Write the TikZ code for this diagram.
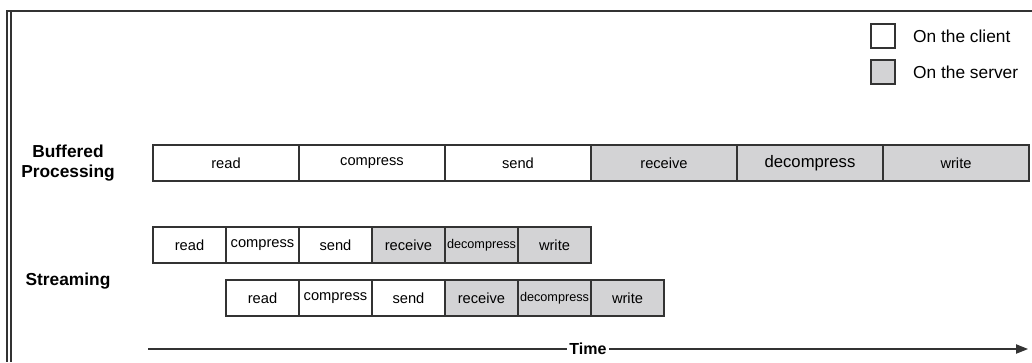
\documentclass[tikz,border=0pt]{standalone}
\usepackage{fontspec}
\setmainfont{Liberation Sans}
\usetikzlibrary{positioning,arrows.meta}
\definecolor{servergray}{HTML}{D3D3D5}
\definecolor{edgegray}{HTML}{333333}
\tikzset{
  task/.style={draw=edgegray, line width=0.8pt, inner sep=0pt, minimum height=27pt},
  client/.style={task, fill=white},
  server/.style={task, fill=servergray},
  longtask/.style={minimum width=109.5pt},
  shorttask/.style={minimum width=54.75pt},
  rowlabel/.style={font=\fontsize{13}{15}\selectfont\bfseries, align=center},
  legendtext/.style={inner sep=0pt, font=\fontsize{13}{15}\selectfont},
}
\begin{document}
\begin{tikzpicture}[x=0.75pt, y=-0.75pt]
\useasboundingbox (0,0) rectangle (1032,362);
% frame
\draw[line width=1pt, edgegray] (1032,11) -- (7,11) -- (7,362);
\draw[line width=1pt, edgegray] (11,11) -- (11,362);
% legend
\node[client, minimum size=18pt] (legclient) at (883,36) {};
\node[legendtext, right=13pt of legclient] (legclienttxt) {On the client};
\node[server, minimum size=18pt] (legserver) at (883,72) {};
\node[legendtext, right=13pt of legserver] (legservertxt) {On the server};
% row labels
\node[rowlabel] (buflabel) at (68,163) {Buffered\\Processing};
\node[rowlabel] (strlabel) at (68,281) {Streaming};
% buffered processing
\foreach \lbl/\kind/\fs [count=\i] in {read/client/11, compress/client/11, send/client/11,
    receive/server/11, decompress/server/12.5, write/server/11}
  \node[\kind, longtask, font=\fontsize{\fs}{\fs}\selectfont] (buf\i) at ({153+146*(\i-0.5)},163) {\lbl};
% streaming, two overlapping rows
\foreach \lbl/\kind/\fs [count=\i] in {read/client/11, compress/client/11, send/client/11,
    receive/server/11, decompress/server/9.5, write/server/11}
{
  \node[\kind, shorttask, font=\fontsize{\fs}{\fs}\selectfont] (strA\i) at ({153+73*(\i-0.5)},245) {\lbl};
  \node[\kind, shorttask, font=\fontsize{\fs}{\fs}\selectfont] (strB\i) at ({226+73*(\i-0.5)},298) {\lbl};
}
% time axis
\coordinate (tstart) at (148,349);
\coordinate (tend) at (1028,349);
\node[font=\fontsize{12}{14}\selectfont\bfseries, inner sep=2pt] (time) at (588,349) {Time};
\draw[line width=0.8pt, edgegray] (tstart) -- (time.west);
\draw[line width=0.8pt, edgegray, -{Triangle[length=9pt, width=7pt]}] (time.east) -- (tend);
\end{tikzpicture}
\end{document}
